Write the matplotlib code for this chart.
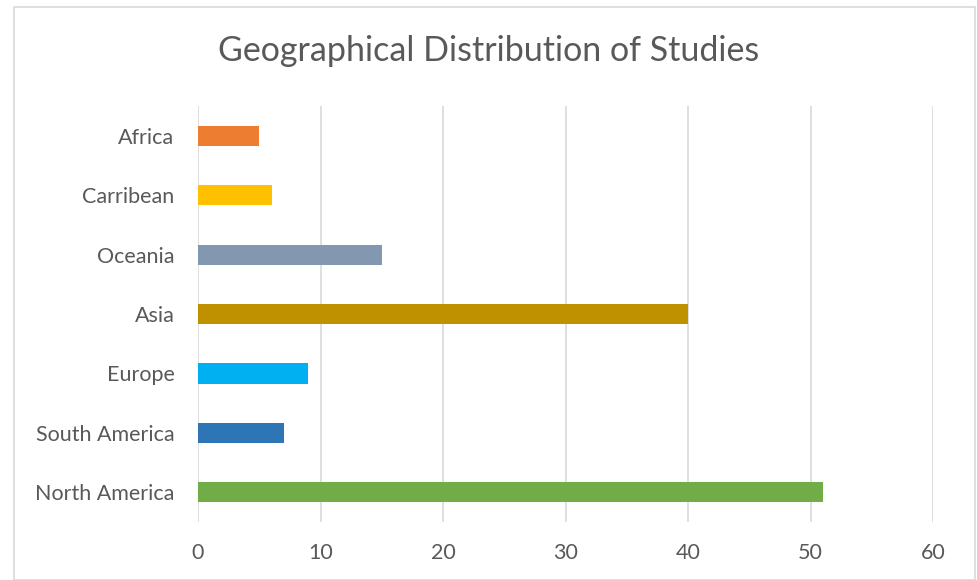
import matplotlib.pyplot as plt
from matplotlib.patches import Rectangle

# data (bottom to top)
regions = ['North America', 'South America', 'Europe', 'Asia', 'Oceania', 'Carribean', 'Africa']
studies = [51, 7, 9, 40, 15, 6, 5]
colors = ['#70AD47', '#2E75B6', '#00B0F0', '#BF9000', '#8497B0', '#FFC000', '#ED7D31']

plt.rcParams['font.family'] = ['Lato', 'DejaVu Sans']

fig = plt.figure(figsize=(9.77, 5.80), dpi=100)
ax = fig.add_axes([0.2027, 0.1, 0.7523, 0.717])

# light border around the chart
fig.patches.append(Rectangle((14/977, 0), 961/977, 1 - 7/580, transform=fig.transFigure,
                             fill=False, edgecolor='#d9d9d9', linewidth=1.2))

ax.barh(range(len(regions)), studies, height=0.34, color=colors, zorder=3)

ax.set_xlim(0, 60)
ax.set_ylim(-0.5, len(regions) - 0.5)
ax.set_xticks(range(0, 61, 10))
ax.set_yticks(range(len(regions)))
ax.set_yticklabels(regions)

ax.grid(axis='x', color='#d9d9d9', linewidth=1.2, zorder=0)
for s in ax.spines.values():
    s.set_visible(False)
ax.tick_params(length=0, labelsize=15.5, labelcolor='#595959')
ax.tick_params(axis='x', pad=15)
ax.tick_params(axis='y', pad=17)

fig.text(0.5, 1 - 51/580, 'Geographical Distribution of Studies', ha='center', va='center',
         fontsize=24.5, color='#595959')

fig.savefig('out.png', dpi=100)
